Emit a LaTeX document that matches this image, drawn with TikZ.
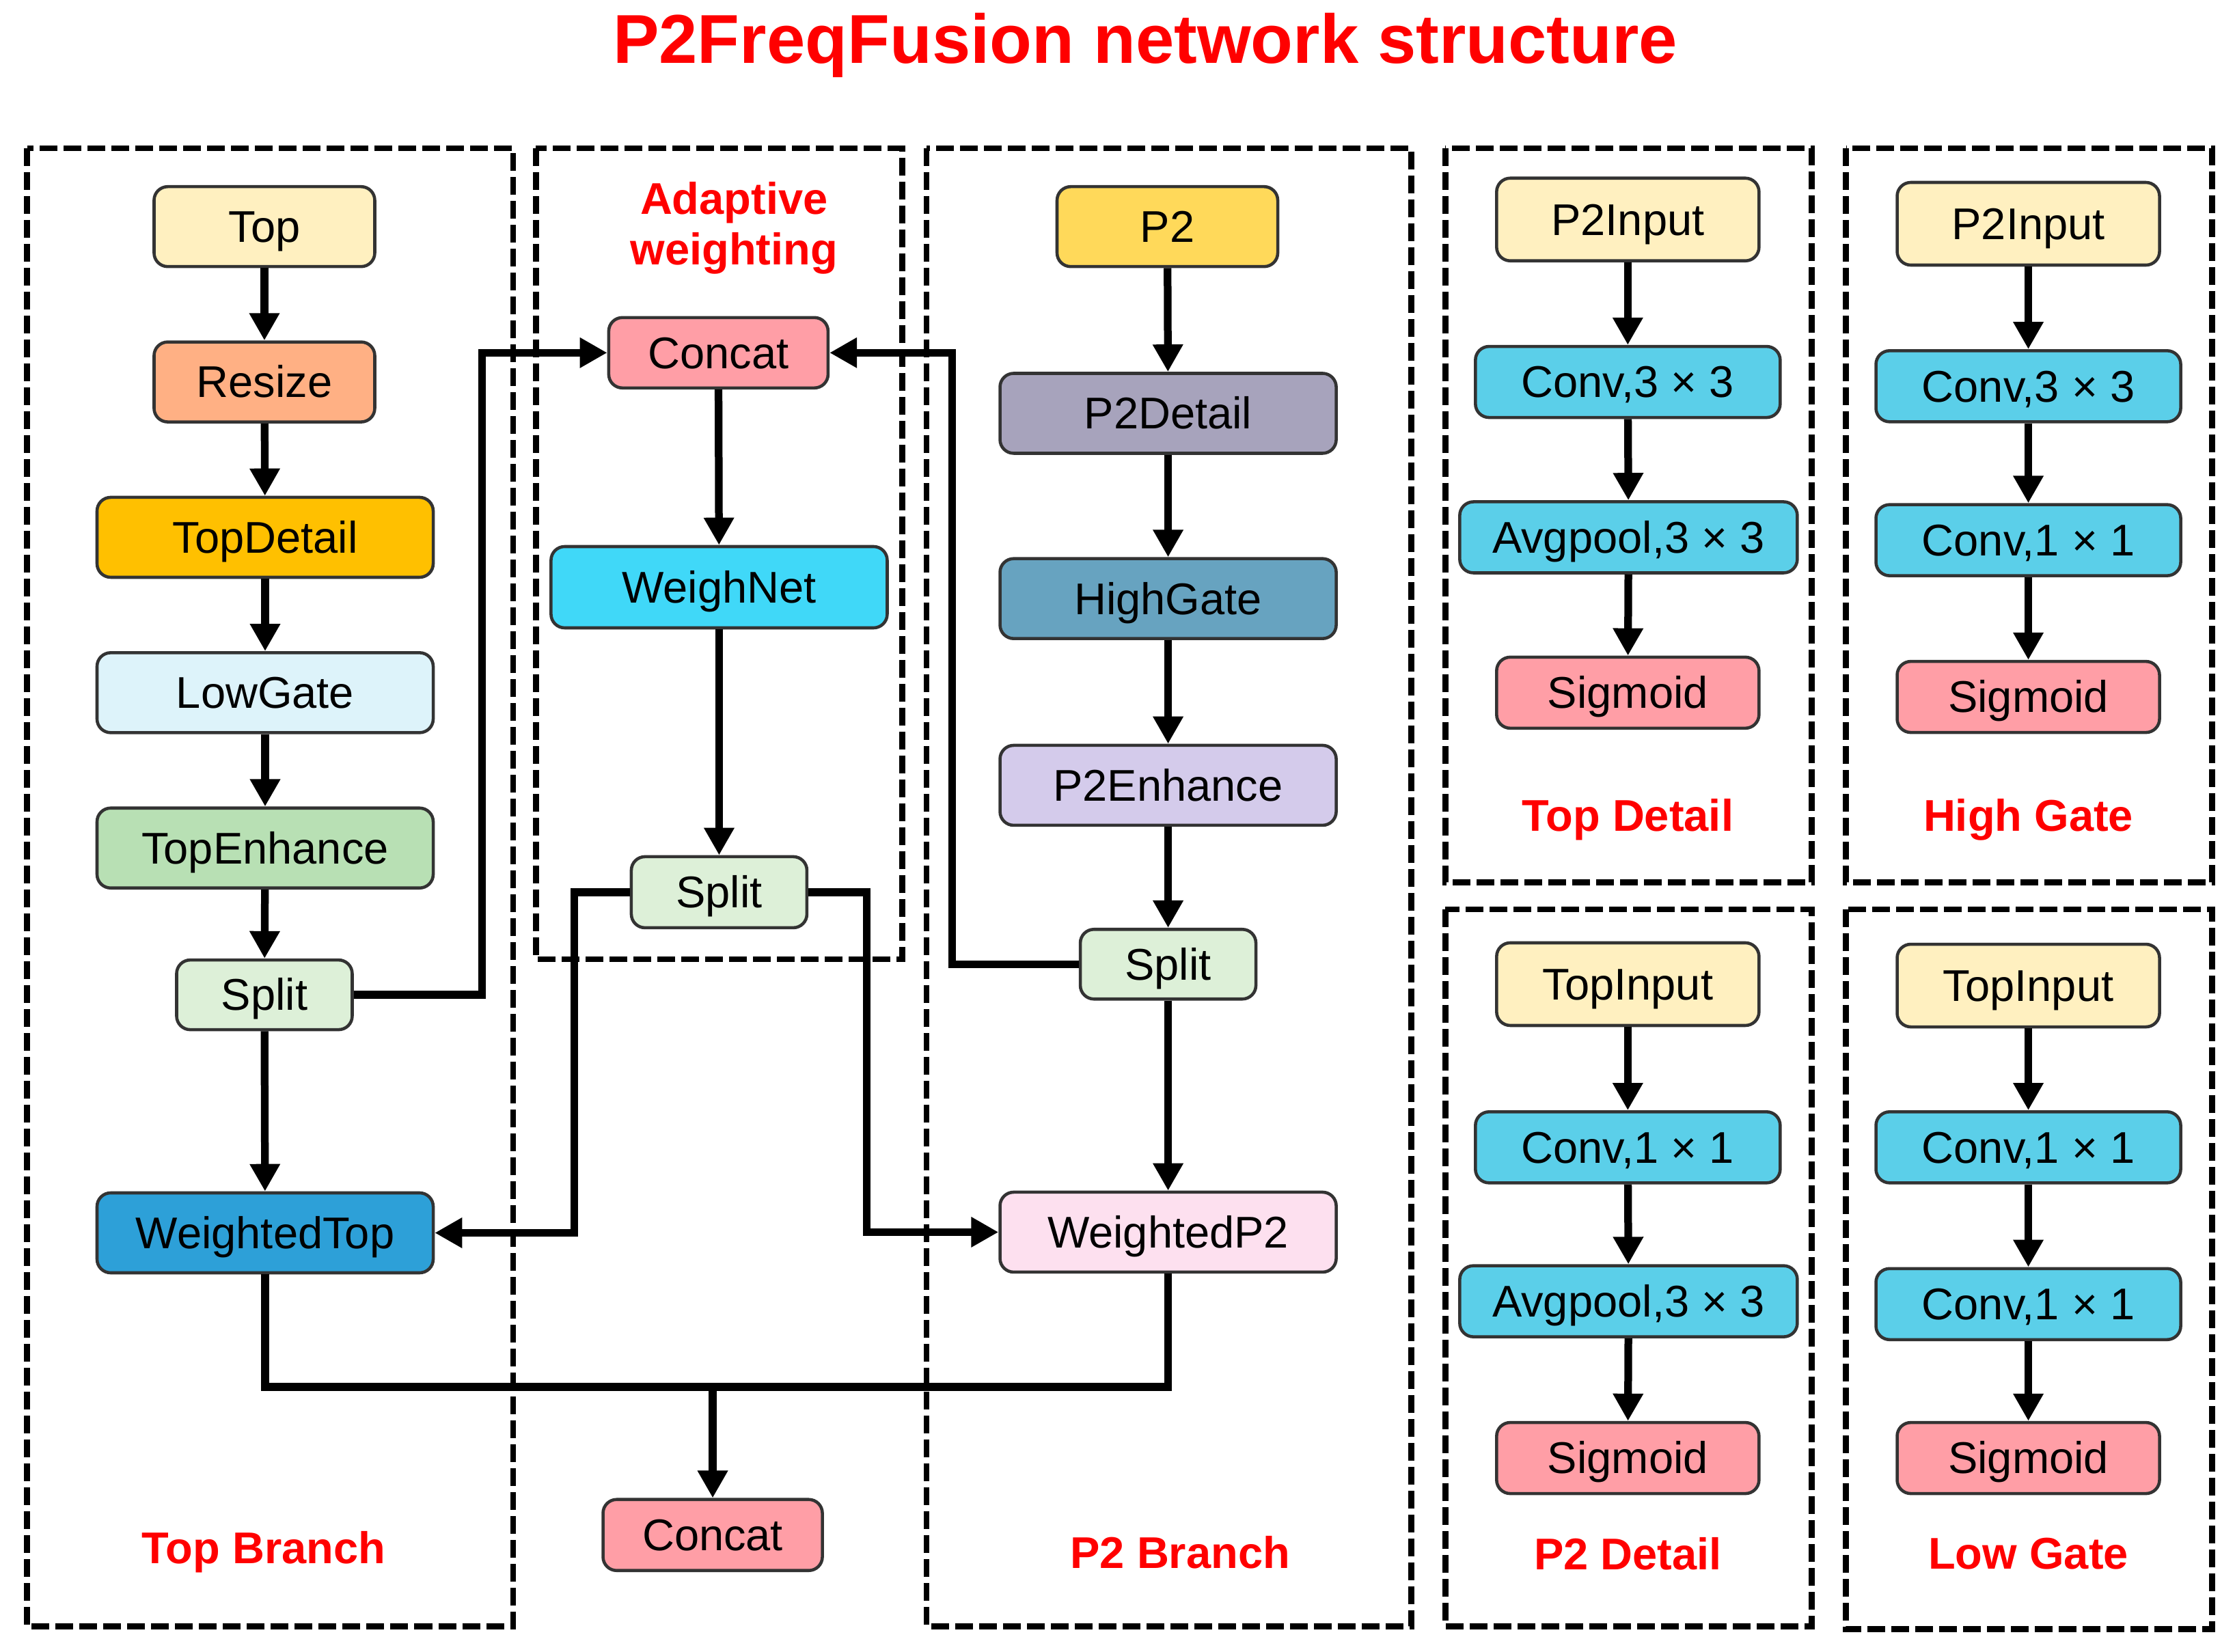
\documentclass[tikz,border=0pt]{standalone}
\usepackage{fontspec}
\setmainfont{Liberation Sans}
\usetikzlibrary{arrows.meta,positioning}
\definecolor{cTop}{HTML}{FFF0C0}
\definecolor{cResize}{HTML}{FFB084}
\definecolor{cTopDetail}{HTML}{FFC000}
\definecolor{cLowGate}{HTML}{DDF3FA}
\definecolor{cTopEnh}{HTML}{B8E0B4}
\definecolor{cSplit}{HTML}{DDF0D8}
\definecolor{cWTop}{HTML}{2DA0D8}
\definecolor{cConcat}{HTML}{FF9EA6}
\definecolor{cWeigh}{HTML}{40D8F8}
\definecolor{cP2}{HTML}{FFD95A}
\definecolor{cP2Detail}{HTML}{A7A3BC}
\definecolor{cHighGate}{HTML}{67A3C0}
\definecolor{cP2Enh}{HTML}{D4CBEB}
\definecolor{cWP2}{HTML}{FDE0EF}
\definecolor{cConv}{HTML}{5BCFE9}
\definecolor{cRed}{HTML}{FF0000}
\definecolor{cBorder}{HTML}{333333}
\tikzset{
  box/.style={draw=cBorder, line width=1.3pt, rounded corners=2mm, inner sep=0pt, align=center,
    text height=17pt, text depth=4pt,
    font=\fontsize{18.5}{22}\selectfont},
  wA/.style={minimum width=32.3mm, minimum height=11.7mm},
  wB/.style={minimum width=49.2mm, minimum height=11.7mm},
  wS/.style={minimum width=25.7mm, minimum height=10.2mm},
  wC/.style={minimum width=32.1mm, minimum height=10.3mm},
  wIn/.style={minimum width=38.4mm, minimum height=12.1mm},
  wConv/.style={minimum width=44.6mm, minimum height=10.4mm},
  wPool/.style={minimum width=49.4mm, minimum height=10.4mm},
  wSig/.style={minimum width=38.4mm, minimum height=10.4mm},
  conn/.style={line width=3.2pt, -{Triangle[length=4mm,width=4.2mm]}},
  wire/.style={line width=3.2pt},
  frame/.style={line width=2.5pt, dash pattern=on 2.6mm off 0.9mm},
  lbl/.style={text=cRed, font=\bfseries\fontsize{18.5}{22}\selectfont, align=center, inner sep=0pt},
}
\begin{document}
\begin{tikzpicture}[x=0.2086mm, y=-0.2086mm]
\path[use as bounding box] (0,0) rectangle (1568,1159);

% title
\node[lbl, font=\bfseries\fontsize{28.8}{32}\selectfont] (title) at (803.5,32) {P2FreqFusion network structure};

% frames
\draw[frame] (19,104) rectangle (360,1141);
\draw[frame] (376,104) rectangle (633,673);
\draw[frame] (650,104) rectangle (990,1141);
\draw[frame] (1014,104) rectangle (1271,619);
\draw[frame] (1295,104) rectangle (1552,619);
\draw[frame] (1014,638) rectangle (1271,1141);
\draw[frame] (1295,638) rectangle (1552,1143);

% Top branch
\node[box, wA, fill=cTop] (top) at (185.5,159) {Top};
\node[box, wA, fill=cResize] (resize) at (185.5,268) {Resize};
\node[box, wB, fill=cTopDetail] (tdet) at (186,377) {TopDetail};
\node[box, wB, fill=cLowGate] (lgate) at (186,486) {LowGate};
\node[box, wB, fill=cTopEnh] (tenh) at (186,595) {TopEnhance};
\node[box, wS, fill=cSplit] (ls) at (185.5,698) {Split};
\node[box, wB, fill=cWTop] (wt) at (186,865) {WeightedTop};

% Adaptive weighting
\node[lbl] (adlbl) at (515,160) {Adaptive\\[-1pt]weighting};
\node[box, wC, fill=cConcat] (ct) at (504,247.5) {Concat};
\node[box, wB, fill=cWeigh, minimum height=11.9mm] (wn) at (504.5,412) {WeighNet};
\node[box, wS, fill=cSplit, minimum height=10.4mm] (ms) at (504.5,626) {Split};
\node[box, wC, fill=cConcat, minimum height=10.4mm] (cb) at (500,1077) {Concat};

% P2 branch
\node[box, wA, fill=cP2] (p2) at (819,159) {P2};
\node[box, wB, fill=cP2Detail] (p2det) at (819.5,290) {P2Detail};
\node[box, wB, fill=cHighGate] (hgate) at (819.5,420) {HighGate};
\node[box, wB, fill=cP2Enh] (p2enh) at (819.5,551) {P2Enhance};
\node[box, wS, fill=cSplit] (rs) at (819.5,676.5) {Split};
\node[box, wB, fill=cWP2] (wp) at (819.5,864.5) {WeightedP2};

% labels
\node[lbl] (l1) at (185,1089) {Top Branch};
\node[lbl] (l2) at (828,1089) {P2 Branch};
\node[lbl] (l3) at (1142,575) {Top Detail};
\node[lbl] (l4) at (1423,575) {High Gate};
\node[lbl] (l5) at (1142,1090) {P2 Detail};
\node[lbl] (l6) at (1423,1090) {Low Gate};

% Top Detail panel
\node[box, wIn, fill=cTop] (a1) at (1142,154) {P2Input};
\node[box, wConv, fill=cConv] (a2) at (1142,268) {Conv,3 × 3};
\node[box, wPool, fill=cConv] (a3) at (1142.5,377) {Avgpool,3 × 3};
\node[box, wSig, fill=cConcat] (a4) at (1142,486) {Sigmoid};
% High Gate panel
\node[box, wIn, fill=cTop] (b1) at (1423,157) {P2Input};
\node[box, wConv, fill=cConv] (b2) at (1423,271) {Conv,3 × 3};
\node[box, wConv, fill=cConv] (b3) at (1423,379) {Conv,1 × 1};
\node[box, wSig, fill=cConcat] (b4) at (1423,489) {Sigmoid};
% P2 Detail panel
\node[box, wIn, fill=cTop] (c1) at (1142,690.5) {TopInput};
\node[box, wConv, fill=cConv] (c2) at (1142,805) {Conv,1 × 1};
\node[box, wPool, fill=cConv] (c3) at (1142.5,913) {Avgpool,3 × 3};
\node[box, wSig, fill=cConcat] (c4) at (1142,1023) {Sigmoid};
% Low Gate panel
\node[box, wIn, fill=cTop] (d1) at (1423,691.5) {TopInput};
\node[box, wConv, fill=cConv] (d2) at (1423,805) {Conv,1 × 1};
\node[box, wConv, fill=cConv] (d3) at (1423,915) {Conv,1 × 1};
\node[box, wSig, fill=cConcat] (d4) at (1423,1023) {Sigmoid};

% chains
\draw[conn] (top) -- (resize);
\draw[conn] (resize) -- (tdet);
\draw[conn] (tdet) -- (lgate);
\draw[conn] (lgate) -- (tenh);
\draw[conn] (tenh) -- (ls);
\draw[conn] (ls) -- (wt);
\draw[conn] (ct) -- (wn);
\draw[conn] (wn) -- (ms);
\draw[conn] (p2) -- (p2det);
\draw[conn] (p2det) -- (hgate);
\draw[conn] (hgate) -- (p2enh);
\draw[conn] (p2enh) -- (rs);
\draw[conn] (rs) -- (wp);
\foreach \p in {a,b,c,d}{
  \draw[conn] (\p1) -- (\p2);
  \draw[conn] (\p2) -- (\p3);
  \draw[conn] (\p3) -- (\p4);
}

% cross connections
\draw[conn] (ls.east) -- ++(90,0) |- (ct.west);
\draw[conn] (rs.west) -- ++(-89,0) |- (ct.east);
\draw[conn] (ms.west) -- ++(-39,0) |- (wt.east);
\draw[conn] (ms.east) -- ++(41,0) |- (wp.west);
\draw[wire] (wt.south) -- ++(0,79) -| (wp.south);
\coordinate (j) at (500,972);
\draw[conn] (j) -- (cb.north);
\end{tikzpicture}
\end{document}
